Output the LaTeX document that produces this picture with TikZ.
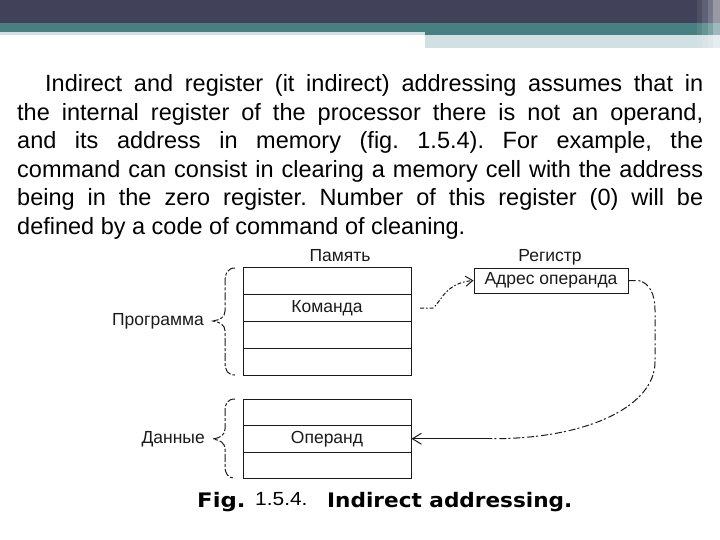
\documentclass[tikz,border=0pt]{standalone}
\usepackage{fontspec}
\setmainfont{Liberation Sans}
\newfontfamily\capfont{DejaVu Sans}
\usetikzlibrary{arrows.meta}
\definecolor{hdrdark}{HTML}{41425A}
\definecolor{hdrteal}{HTML}{477F82}
\definecolor{hdrlight}{HTML}{D1E0E3}
\definecolor{ink}{HTML}{1A1A1A}
\begin{document}
\frenchspacing
\begin{tikzpicture}[x=1pt,y=-1pt,
  cell/.style={draw=ink, line width=1pt, minimum width=168pt, minimum height=27pt, inner sep=0pt,
    font=\fontsize{17.5}{19}\selectfont, text=ink},
  lbl/.style={font=\fontsize{17.5}{19}\selectfont, inner sep=0pt, text=ink},
  bracestyle/.style={draw=ink, line width=1pt, dash pattern=on 8pt off 2pt on 3pt off 2pt},
  conn/.style={draw=ink, line width=1pt, dash pattern=on 4pt off 2pt on 1.5pt off 2pt},
  conntwo/.style={draw=ink, line width=1pt, dash pattern=on 7pt off 3pt on 2pt off 2pt},
  barb/.style={-{Straight Barb[length=7pt,width=10pt,line width=1pt]}}
]
\useasboundingbox (0,0) rectangle (720,540);
% header
\fill[hdrdark] (0,0) rectangle (720,23.5);
\fill[hdrteal] (0,23.5) rectangle (720,35.5);
\fill[hdrlight] (0,32) rectangle (425,35.5);
\fill[hdrlight] (425,35.5) rectangle (720,48.5);
\fill[white, opacity=0.08] (697,0) rectangle (720,48.5);
\fill[white, opacity=0.10] (702,0) rectangle (720,48.5);
\fill[white, opacity=0.15] (708,0) rectangle (720,48.5);
\fill[white, opacity=0.25] (713,0) rectangle (720,48.5);

% paragraph
\node[anchor=base west, inner sep=0pt, text width=686pt, align=justify,
  font=\fontsize{23.5}{28.5}\selectfont] (para) at (17,91.7)
{\hspace*{28pt}Indirect and register (it indirect) addressing assumes that in\linebreak
the internal register of the processor there is not an operand,\linebreak
and its address in memory (fig. 1.5.4). For example, the\linebreak
command can consist in clearing a memory cell with the address\linebreak
being in the zero register. Number of this register (0) will be\linebreak
defined by a code of command of cleaning.};

% memory (program)
\node[lbl] (memlbl) at (340,256) {Память};
\node[cell] (m1) at (327,281) {};
\node[cell] (m2) at (327,308) {Команда};
\node[cell] (m3) at (327,335) {};
\node[cell] (m4) at (327,362) {};
% memory (data)
\node[cell, minimum height=26.5pt] (d1) at (327,412.25) {};
\node[cell, minimum height=26.5pt] (d2) at (327,438.75) {Операнд};
\node[cell, minimum height=26.5pt] (d3) at (327,465.25) {};

% labels + braces
\node[lbl, anchor=east] (prog) at (204,321) {Программа};
\node[lbl, anchor=east] (data) at (205,439) {Данные};
\draw[bracestyle] (235,268) .. controls (228,268) and (225,273) .. (225,282) -- (225,311)
  .. controls (225,317) and (220,320) .. (213,321) .. controls (220,322) and (225,325) .. (225,331)
  -- (225,362) .. controls (225,371) and (228,375) .. (235,375);
\draw[bracestyle] (235,399) .. controls (228,399) and (225,403) .. (225,411) -- (225,429)
  .. controls (225,435) and (220,438) .. (213,439) .. controls (220,440) and (225,443) .. (225,449)
  -- (225,466) .. controls (225,474) and (228,478) .. (235,478);

% register
\node[lbl] (reglbl) at (550,257) {Регистр};
\node[draw=ink, line width=1pt, minimum width=154pt, minimum height=25pt, inner sep=0pt,
  font=\fontsize{17.5}{19}\selectfont, text=ink] (reg) at (551,280.5) {Адрес операнда};

% connectors
\coordinate (cmdout) at (420,308);
\draw[conn, barb] (cmdout) -- (433,308) .. controls (441,302) and (445,283) .. (reg.west);
\coordinate (jn) at (492,438.75);
\draw[conntwo] (reg.east) -- ++(10,0) .. controls (650,283) and (655,295) .. (655,310) -- (655,362)
  .. controls (655,405) and (590,438.75) .. (jn);
\draw[draw=ink, line width=1pt, -{Straight Barb[length=9pt,width=11pt,line width=1pt]}] (jn) -- (d2.east);

% caption
\node[anchor=base west, inner sep=0pt] (capa) at (197,507)
  {\capfont\bfseries\fontsize{20}{22}\selectfont\scalebox{1.14}[1]{Fig.}};
\node[anchor=base west, inner sep=0pt] (capb) at (255,505)
  {\fontsize{19}{22}\selectfont\scalebox{1.1}[1]{1.5.4.}};
\node[anchor=base west, inner sep=0pt] (capc) at (327,507)
  {\capfont\bfseries\fontsize{20}{22}\selectfont\scalebox{1.08}[1]{Indirect addressing.}};
\end{tikzpicture}
\end{document}
